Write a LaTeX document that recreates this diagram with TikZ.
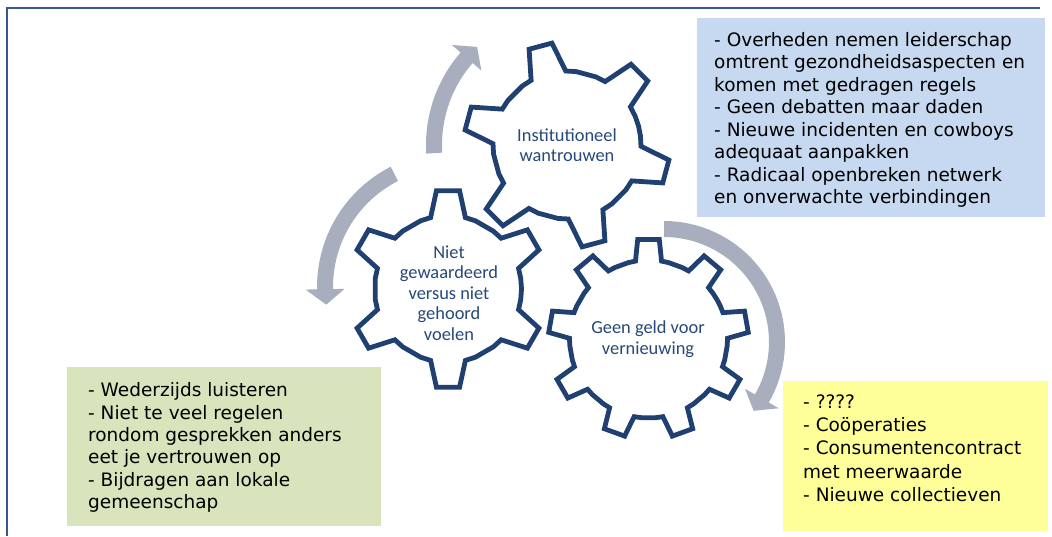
\documentclass[tikz,border=0pt]{standalone}
\usepackage{fontspec}
\setmainfont{DejaVu Sans}
\newfontfamily\gearfont{Carlito}
\definecolor{framec}{RGB}{52,88,145}
\definecolor{gearc}{RGB}{31,64,112}
\definecolor{geartext}{RGB}{38,72,122}
\definecolor{arrowc}{RGB}{168,174,190}
\definecolor{bluefill}{RGB}{198,217,241}
\definecolor{greenfill}{RGB}{216,228,188}
\definecolor{yellowfill}{RGB}{255,255,153}

% gear outline: cx cy N theta0 Rtip Rroot tipHalfAngle baseHalfAngle
\newcommand{\drawgear}[8]{%
  \draw[gearline]
    ({#1+#6*cos(#4-180/#3)},{#2+#6*sin(#4-180/#3)})
    \foreach \gk [evaluate=\gk as \ga using #4+(\gk-1)*360/#3] in {1,...,#3}{
      -- ({#1+#6*cos(\ga-#8-(360/#3-2*#8)/4)},{#2+#6*sin(\ga-#8-(360/#3-2*#8)/4)})
      -- ({#1+#6*cos(\ga-#8)},{#2+#6*sin(\ga-#8)})
      -- ({#1+#5*cos(\ga-#7)},{#2+#5*sin(\ga-#7)})
      -- ({#1+#5*cos(\ga+#7)},{#2+#5*sin(\ga+#7)})
      -- ({#1+#6*cos(\ga+#8)},{#2+#6*sin(\ga+#8)})
      -- ({#1+#6*cos(\ga+#8+(360/#3-2*#8)/4)},{#2+#6*sin(\ga+#8+(360/#3-2*#8)/4)})
    } -- cycle;%
}

% curved arrow: cx cy R start base tip (angles)
\newcommand{\cyclearrow}[6]{%
  \fill[arrowc]
    plot[domain=#4:#5, samples=40, variable=\t] ({#1+(#3+8)*cos(\t)},{#2+(#3+8)*sin(\t)})
    -- ({#1+(#3+19.5)*cos(#5)},{#2+(#3+19.5)*sin(#5)})
    -- ({#1+#3*cos(#6)},{#2+#3*sin(#6)})
    -- ({#1+(#3-19.5)*cos(#5)},{#2+(#3-19.5)*sin(#5)})
    -- plot[domain=#5:#4, samples=40, variable=\t] ({#1+(#3-8)*cos(\t)},{#2+(#3-8)*sin(\t)})
    -- cycle;%
}

\begin{document}
\begin{tikzpicture}[x=1pt,y=-1pt,
  gearline/.style={draw=gearc, line width=4.8pt, line join=miter},
  gtext/.style={font=\gearfont\fontsize{18.4}{20.5}\selectfont, text=geartext, align=center, inner sep=0pt},
  boxnode/.style={rectangle, draw=none, inner sep=0pt, anchor=north west},
  boxtext/.style={align=left, inner sep=0pt, anchor=north west, text=black},
  framel/.style={draw=framec, line width=2pt}
]
\useasboundingbox (0,0) rectangle (1052,536);

% frame
\coordinate (fbl) at (7,536);
\coordinate (ftl) at (7,8);
\coordinate (ftr) at (1040,8);
\draw[framel] (fbl) -- (ftl) -- (ftr);

% text boxes
\node[boxnode, fill=bluefill, minimum width=348pt, minimum height=199pt] (bluebox) at (697,18) {};
\node[boxnode, fill=greenfill, minimum width=314pt, minimum height=159pt] (greenbox) at (67,367) {};
\node[boxnode, fill=yellowfill, minimum width=265pt, minimum height=150pt] (yellowbox) at (783,381) {};

\node[boxtext, font=\fontsize{18.5}{22.5}\selectfont] (bluetext) at (714,30.3) {\strut - Overheden nemen leiderschap\\
omtrent gezondheidsaspecten en\\
komen met gedragen regels\\
- Geen debatten maar daden\\
- Nieuwe incidenten en cowboys\\
adequaat aanpakken\\
- Radicaal openbreken netwerk\\
en onverwachte verbindingen};

\node[boxtext, font=\fontsize{18.5}{22.4}\selectfont] (greentext) at (88,380.8) {\strut - Wederzijds luisteren\\
- Niet te veel regelen\\
rondom gesprekken anders\\
eet je vertrouwen op\\
- Bijdragen aan lokale\\
gemeenschap};

\node[boxtext, font=\fontsize{18.5}{23.3}\selectfont] (yellowtext) at (803,391.7) {\strut - ????\\
- Coöperaties\\
- Consumentencontract\\
met meerwaarde\\
- Nieuwe collectieven};

% cycle arrows
\cyclearrow{567}{145}{133}{-183.5}{-139}{-132.5}
\cyclearrow{452}{287}{127}{-117}{-181}{-188}
\cyclearrow{664}{342}{113}{-90}{30}{37.5}

% gears
\drawgear{567}{145}{6}{15}{103}{74}{6.6}{14}
\drawgear{448}{289}{6}{30}{99}{73.5}{6.7}{13.7}
\drawgear{648.5}{339}{9}{-10}{100}{79}{6.2}{9.5}

\node[gtext] (g1text) at (567,145) {Institutioneel\\wantrouwen};
\node[gtext] (g2text) at (449,293) {Niet\\gewaardeerd\\versus niet\\gehoord\\voelen};
\node[gtext] (g3text) at (648,339) {Geen geld voor\\vernieuwing};
\end{tikzpicture}
\end{document}
